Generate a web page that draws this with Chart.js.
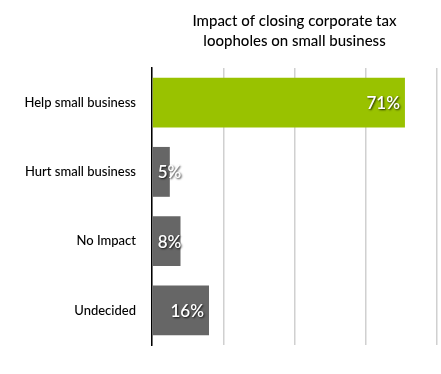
<!DOCTYPE html>
<html>
<head>
<meta charset="utf-8">
<script src="https://cdn.jsdelivr.net/npm/chart.js@4.4.1/dist/chart.umd.min.js"></script>
<style>
  body { margin: 0; background: #fff; }
  #wrap { width: 441px; height: 374px; }
</style>
</head>
<body>
<div id="wrap"><canvas id="myChart" width="441" height="374"></canvas></div>
<script>
const categories = ['Help small business', 'Hurt small business', 'No Impact', 'Undecided'];
const values = [71, 5, 8, 16];
const barColors = ['#99c200', '#666666', '#666666', '#666666'];
const titleLines = ['Impact of closing corporate tax', 'loopholes on small business'];
const xMax = 80;
const xStep = 20;

// title centered over the plot area, not the whole canvas
const titlePlugin = {
  id: 'plotTitle',
  afterDraw(chart) {
    const ctx = chart.ctx;
    const area = chart.chartArea;
    const cx = (area.left + area.right) / 2;
    ctx.save();
    ctx.font = '500 15px Lato';
    ctx.fillStyle = '#000';
    ctx.textAlign = 'center';
    ctx.textBaseline = 'middle';
    ctx.fillText(titleLines[0], cx, 21);
    ctx.fillText(titleLines[1], cx, 41);
    ctx.restore();
  }
};

const valueLabels = {
  id: 'valueLabels',
  afterDatasetsDraw(chart) {
    const ctx = chart.ctx;
    const meta = chart.getDatasetMeta(0);
    ctx.save();
    ctx.font = '600 17px Lato';
    ctx.fillStyle = '#fff';
    ctx.textBaseline = 'middle';
    ctx.textAlign = 'left';
    ctx.shadowColor = 'rgba(0,0,0,0.8)';
    ctx.shadowOffsetX = 1;
    ctx.shadowOffsetY = 1;
    ctx.shadowBlur = 2;
    meta.data.forEach((bar, i) => {
      const txt = values[i] + '%';
      const w = ctx.measureText(txt).width;
      let x = bar.x - 5 - w;
      if (x < bar.base + 5) x = bar.base + 5;
      ctx.fillText(txt, x, bar.y + 1);
    });
    ctx.restore();
  }
};

new Chart(document.getElementById('myChart'), {
  type: 'bar',
  data: {
    labels: categories,
    datasets: [{
      data: values,
      backgroundColor: barColors,
      borderWidth: 0,
      categoryPercentage: 1,
      barPercentage: 0.72
    }]
  },
  options: {
    indexAxis: 'y',
    responsive: false,
    animation: false,
    layout: { padding: { top: 68, right: 4, left: 0, bottom: 0 } },
    plugins: {
      legend: { display: false },
      title: { display: false },
      tooltip: { enabled: false }
    },
    scales: {
      x: {
        min: 0,
        max: xMax,
        ticks: { display: false, stepSize: xStep },
        grid: { color: '#d0d0d0', lineWidth: 1.5, drawTicks: false },
        border: { display: false },
        afterFit(scale) { scale.height = 29; }
      },
      y: {
        ticks: { color: '#000', font: { family: 'Lato', size: 13, weight: 500 }, padding: 16 },
        grid: { display: false, drawTicks: false },
        border: { display: true, color: '#000', width: 1.5 },
        afterFit(scale) { scale.width = 152; }
      }
    }
  },
  plugins: [titlePlugin, valueLabels]
});
</script>
</body>
</html>
